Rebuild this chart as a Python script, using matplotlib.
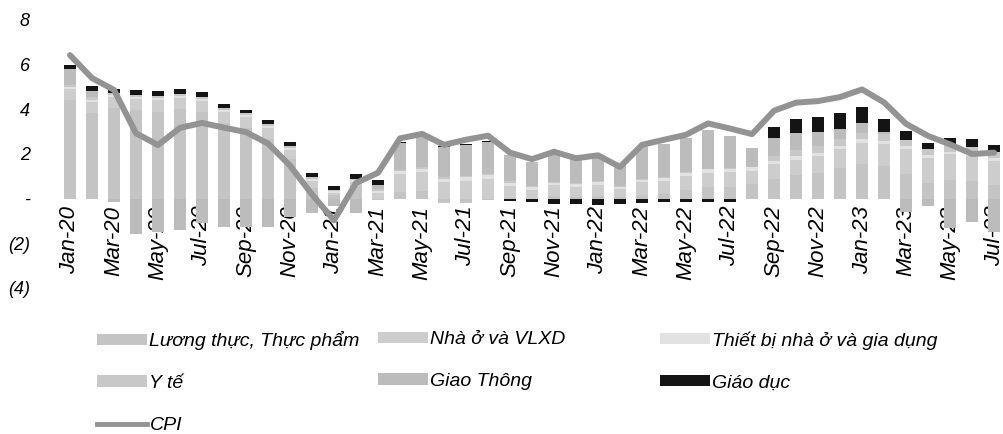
import matplotlib
matplotlib.use("Agg")
import matplotlib.pyplot as plt
import numpy as np
import pandas as pd
from matplotlib.patches import Patch
from matplotlib.lines import Line2D

# month labels, Jan-20 .. Jul-23
months = pd.date_range("2020-01-01", "2023-07-01", freq="MS").strftime("%b-%y").tolist()

# contributions to CPI (percentage points)
food = [4.40, 3.83, 4.04, 3.95, 3.90, 4.00, 3.86, 3.37, 3.15, 2.65, 1.77, 0.50,
        0.15, 0.55, -0.05, 0.30, 0.35, -0.20, -0.20, -0.05, 0.02, 0.00, 0.10, 0.08,
        0.12, 0.07, 0.18, 0.24, 0.41, 0.51, 0.54, 0.65, 0.88, 1.05, 1.15, 1.38,
        1.55, 1.46, 1.11, 0.72, 0.84, 0.78, 0.60]
housing = [0.50, 0.50, 0.50, 0.50, 0.50, 0.50, 0.50, 0.50, 0.50, 0.50, 0.40, 0.30,
           0.10, 0.20, 0.25, 0.80, 0.85, 0.75, 0.80, 0.90, 0.55, 0.40, 0.50, 0.45,
           0.50, 0.35, 0.55, 0.55, 0.60, 0.65, 0.65, 0.60, 0.65, 0.70, 0.75, 0.85,
           0.95, 1.00, 1.10, 1.10, 1.15, 1.15, 1.10]
equipment = [0.10, 0.10, 0.10, 0.10, 0.10, 0.10, 0.10, 0.10, 0.10, 0.10, 0.10, 0.08,
             0.08, 0.08, 0.10, 0.15, 0.15, 0.15, 0.15, 0.15, 0.15, 0.12, 0.12, 0.12,
             0.12, 0.12, 0.12, 0.13, 0.14, 0.15, 0.15, 0.15, 0.15, 0.15, 0.15, 0.15,
             0.15, 0.14, 0.13, 0.12, 0.11, 0.10, 0.10]
health = [0.10, 0.10, 0.10, 0.10, 0.10, 0.10, 0.10, 0.10, 0.10, 0.10, 0.10, 0.10,
          0.07, 0.07, 0.08, 0.05, 0.05, 0.05, 0.05, 0.05, 0.05, 0.04, 0.03, 0.03,
          0.03, 0.03, 0.03, 0.03, 0.03, 0.03, 0.03, 0.03, 0.25, 0.30, 0.30, 0.30,
          0.30, 0.30, 0.30, 0.30, 0.30, 0.30, 0.30]
transport = [0.70, 0.30, -0.15, -1.60, -1.50, -1.40, -1.10, -1.25, -1.25, -1.25, -0.80, -0.65,
             -0.35, -0.65, 0.20, 1.20, 1.40, 1.35, 1.40, 1.45, 1.20, 1.10, 1.35, 1.20,
             1.20, 0.95, 1.45, 1.50, 1.55, 1.75, 1.45, 0.85, 0.80, 0.75, 0.65, 0.45,
             0.45, 0.10, -0.60, -0.35, -1.30, -1.05, -1.50]
education = [0.20, 0.20, 0.18, 0.23, 0.23, 0.22, 0.22, 0.18, 0.10, 0.18, 0.18, 0.18,
             0.18, 0.22, 0.22, 0.05, 0.05, 0.05, 0.05, 0.03, -0.12, -0.15, -0.22, -0.22,
             -0.30, -0.22, -0.20, -0.15, -0.15, -0.15, -0.15, 0.00, 0.50, 0.63, 0.67, 0.72,
             0.72, 0.58, 0.40, 0.27, 0.30, 0.35, 0.30]
cpi = [6.43, 5.40, 4.87, 2.93, 2.40, 3.17, 3.39, 3.18, 2.98, 2.47, 1.48, 0.19,
       -0.97, 0.70, 1.16, 2.70, 2.90, 2.41, 2.64, 2.82, 2.06, 1.77, 2.10, 1.81,
       1.94, 1.42, 2.41, 2.64, 2.86, 3.37, 3.14, 2.89, 3.94, 4.30, 4.37, 4.55,
       4.89, 4.31, 3.35, 2.81, 2.43, 2.00, 2.06]

labels = ["Lương thực, Thực phẩm", "Nhà ở và VLXD", "Thiết bị nhà ở và gia dụng",
          "Y tế", "Giao Thông", "Giáo dục"]
colors = ["#c4c4c4", "#cdcdcd", "#e2e2e2", "#c8c8c8", "#bcbcbc", "#141414"]
cpi_color = "#939393"

plt.rcParams["font.family"] = ["Liberation Sans", "DejaVu Sans"]
plt.rcParams["font.style"] = "italic"

fig = plt.figure(figsize=(10.04, 4.34), dpi=100)
ax = fig.add_axes([55 / 1004, 1 - 288 / 434, 949 / 1004, 268 / 434])
# move the category axis to zero first (this resets the tick setup)
ax.spines["bottom"].set_position(("data", 0))

x = np.arange(len(months))
pos_base = np.zeros(len(x))
neg_base = np.zeros(len(x))
for vals, color in zip([food, housing, equipment, health, transport, education], colors):
    v = np.asarray(vals)
    bottom = np.where(v >= 0, pos_base, neg_base)
    ax.bar(x, v, bottom=bottom, width=0.55, color=color, linewidth=0, zorder=2)
    pos_base += np.clip(v, 0, None)
    neg_base += np.clip(v, None, 0)

ax.plot(x, cpi, color=cpi_color, lw=4.3, solid_joinstyle="round", solid_capstyle="round", zorder=3)

ax.set_xlim(-0.68, 42.45)
ax.set_ylim(-4, 8)
ax.set_yticks([-4, -2, 0, 2, 4, 6, 8])
ax.set_yticklabels(["(4)", "(2)", "-", "2", "4", "6", "8"], fontsize=13)
ax.set_xticks(x[::2])
ax.set_xticklabels(months[::2], rotation=90, fontsize=16)
for side in ["top", "right", "left", "bottom"]:
    ax.spines[side].set_visible(False)
ax.tick_params(axis="x", length=0, pad=5)
ax.tick_params(axis="y", length=0, pad=18)

# legend, three columns placed separately
handles = [Patch(facecolor=c, edgecolor="none") for c in colors]
cpi_handle = Line2D([0], [0], color=cpi_color, lw=3.5)
legend_kw = dict(frameon=False, fontsize=14, handlelength=2.55, handleheight=0.5,
                 handletextpad=0.15, labelspacing=1.28, borderpad=0, borderaxespad=0,
                 loc="upper left")
fig.legend([handles[0], handles[3], cpi_handle], [labels[0], labels[3], "CPI"],
           bbox_to_anchor=(97 / 1004, 1 - 331 / 434), **legend_kw)
fig.legend([handles[1], handles[4]], [labels[1], labels[4]],
           bbox_to_anchor=(378 / 1004, 1 - 331 / 434), **legend_kw)
fig.legend([handles[2], handles[5]], [labels[2], labels[5]],
           bbox_to_anchor=(660 / 1004, 1 - 331 / 434), **legend_kw)

fig.savefig("out.png", dpi=100)
